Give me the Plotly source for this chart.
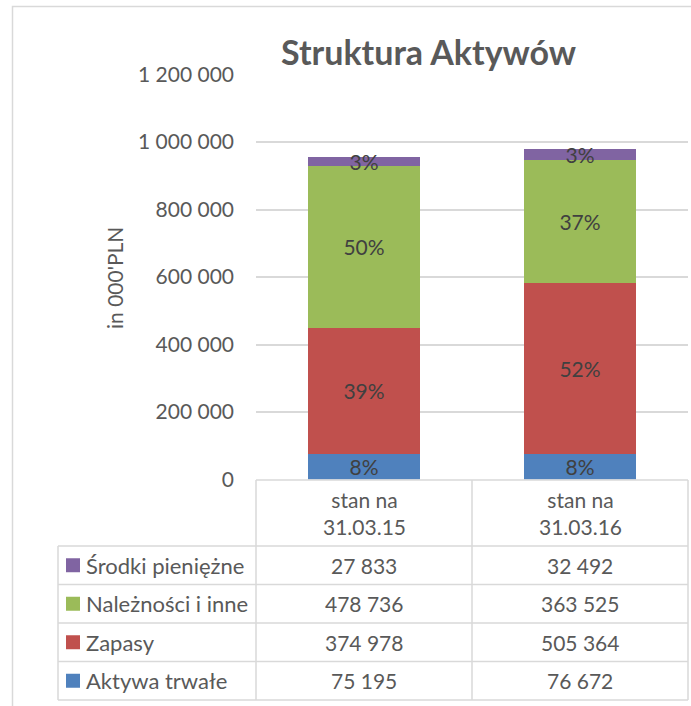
import plotly.graph_objects as go

# ---- data ----
categories = ["31.03.15", "31.03.16"]
header_labels = ["stan na<br>31.03.15", "stan na<br>31.03.16"]
series_names = ["Aktywa trwałe", "Zapasy", "Należności i inne", "Środki pieniężne"]
aktywa_trwale = [75195, 76672]
zapasy = [374978, 505364]
naleznosci = [478736, 363525]
srodki = [27833, 32492]
y_tick_values = [0, 200000, 400000, 600000, 800000, 1000000, 1200000]

series_values = [aktywa_trwale, zapasy, naleznosci, srodki]
colors = ["#4F81BD", "#C0504D", "#9BBB59", "#8064A2"]

W, H = 691, 706
FONT = "Lato"
TXT = "#595959"
GRID = "#d9d9d9"


def px(x):
    return x / W


def py(y):
    return 1 - y / H


def fmt(v):
    return f"{v:,}".replace(",", " ")


totals = [sum(s[i] for s in series_values) for i in range(len(categories))]

fig = go.Figure()
for name, vals, col in zip(series_names, series_values, colors):
    pct = [f"{round(v / t * 100)}%" for v, t in zip(vals, totals)]
    fig.add_trace(go.Bar(
        x=categories, y=vals, name=name, marker=dict(color=col, line=dict(width=0)),
        text=pct, textposition="inside", insidetextanchor="middle",
        textangle=0, constraintext="none", cliponaxis=False,
        textfont=dict(family=FONT, size=21, color="#404040"),
        hoverinfo="skip",
    ))

annotations = []
shapes = []

# outer chart border
shapes.append(dict(type="rect", xref="paper", yref="paper",
                   x0=px(12.5), x1=px(W + 5), y0=py(H + 5), y1=py(6.5),
                   line=dict(color=GRID, width=1.5), layer="below"))

# title
annotations.append(dict(text="<b>Struktura Aktywów</b>", xref="paper", yref="paper",
                        x=px(428), y=py(51), xanchor="center", yanchor="middle",
                        showarrow=False, font=dict(family=FONT, size=34, color=TXT)))
# y-axis title
annotations.append(dict(text="in 000'PLN", xref="paper", yref="paper",
                        x=px(115), y=py(278), xanchor="center", yanchor="middle",
                        textangle=-90, showarrow=False,
                        font=dict(family=FONT, size=21, color=TXT)))

# data table grid
x_left, x_hdr, x_right = 58, 256, 688
row_lines = [480, 546, 584.5, 623, 661.5, 700]
col_lines = [256, 472, 688]
lw = dict(color=GRID, width=1.5)
shapes.append(dict(type="line", xref="paper", yref="paper", x0=px(x_hdr), x1=px(x_right),
                   y0=py(row_lines[0]), y1=py(row_lines[0]), line=lw))
for yy in row_lines[1:]:
    shapes.append(dict(type="line", xref="paper", yref="paper", x0=px(x_left), x1=px(x_right),
                       y0=py(yy), y1=py(yy), line=lw))
for xx in col_lines:
    shapes.append(dict(type="line", xref="paper", yref="paper", x0=px(xx), x1=px(xx),
                       y0=py(row_lines[0]), y1=py(row_lines[-1]), line=lw))
shapes.append(dict(type="line", xref="paper", yref="paper", x0=px(x_left), x1=px(x_left),
                   y0=py(row_lines[1]), y1=py(row_lines[-1]), line=lw))

# header labels
for cat, lab in zip(categories, header_labels):
    annotations.append(dict(text=lab, xref="x", yref="paper", x=cat, y=py(513),
                            xanchor="center", yanchor="middle", showarrow=False,
                            font=dict(family=FONT, size=21, color=TXT)))

# table rows (top: last series)
order = list(range(len(series_names)))[::-1]
for r, si in enumerate(order):
    yc = (row_lines[r + 1] + row_lines[r + 2]) / 2
    shapes.append(dict(type="rect", xref="paper", yref="paper",
                       x0=px(66), x1=px(80), y0=py(yc + 7), y1=py(yc - 7),
                       fillcolor=colors[si], line=dict(width=0)))
    annotations.append(dict(text=series_names[si], xref="paper", yref="paper",
                            x=px(84), y=py(yc), xanchor="left", yanchor="middle",
                            showarrow=False, font=dict(family=FONT, size=22, color=TXT)))
    for ci, cat in enumerate(categories):
        annotations.append(dict(text=fmt(series_values[si][ci]), xref="x", yref="paper",
                                x=cat, y=py(yc), xanchor="center", yanchor="middle",
                                showarrow=False, font=dict(family=FONT, size=21, color=TXT)))

fig.update_layout(
    width=W, height=H,
    autosize=False,
    margin=dict(l=0, r=0, t=0, b=0, pad=0, autoexpand=False),
    paper_bgcolor="white", plot_bgcolor="white",
    barmode="stack", bargap=0.486,
    showlegend=False,
    separators=", ",
    xaxis=dict(domain=[px(256), px(688)], showticklabels=False, showgrid=False,
               zeroline=False, showline=False, ticks="", automargin=False),
    yaxis=dict(domain=[py(479.5), py(74.5)], range=[0, 1200000],
               tickvals=y_tick_values, tickformat=",d", automargin=False,
               showgrid=True, gridcolor=GRID, gridwidth=1.5,
               zeroline=False, showline=False, ticks="",
               ticklabelstandoff=21,
               tickfont=dict(family=FONT, size=21, color=TXT)),
    annotations=annotations,
    shapes=shapes,
)

fig.write_html("out.html", config={"displayModeBar": False},
               post_script="document.body.style.margin='0px';")
